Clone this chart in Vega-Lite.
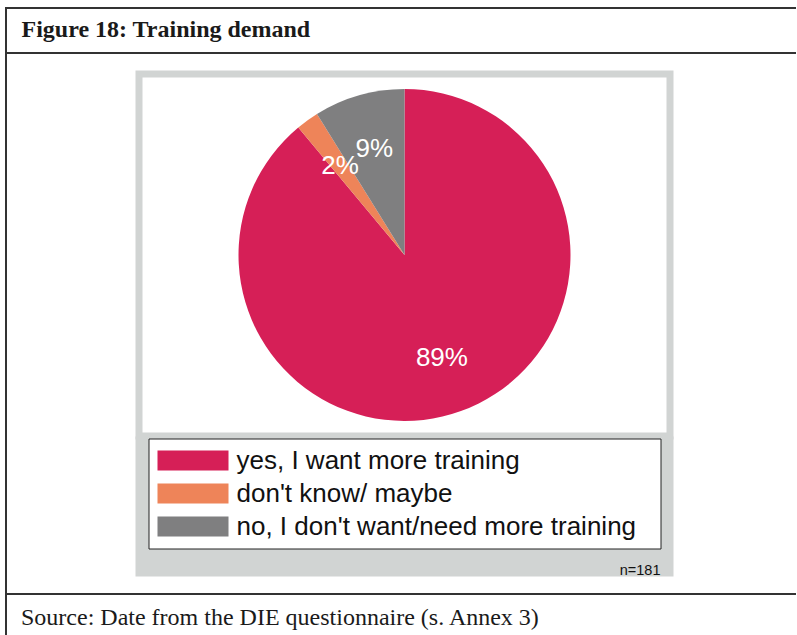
{
  "$schema": "https://vega.github.io/schema/vega-lite/v6.json",
  "background": "white",
  "padding": {"left": 5, "top": 7, "right": 0, "bottom": 0},
  "datasets": {
    "answers": [
      {"answer": "yes, I want more training", "rank": 1, "count": 161, "share": 0.89},
      {"answer": "don't know/ maybe", "rank": 2, "count": 4, "share": 0.02},
      {"answer": "no, I don't want/need more training", "rank": 3, "count": 16, "share": 0.09}
    ]
  },
  "spacing": -2,
  "vconcat": [
    {
      "width": 790,
      "height": 45,
      "view": {"fill": "white", "stroke": "#333333", "strokeWidth": 2, "strokeDash": [790, 45, 1000]},
      "title": {"text": "Figure 18: Training demand", "orient": "bottom", "anchor": "start", "frame": "group", "offset": -15.7, "baseline": "alphabetic", "dx": 15.5, "font": "Liberation Serif", "fontSize": 24, "fontWeight": "bold", "color": "#1a1a1a"},
      "data": {"values": []},
      "mark": "point"
    },
    {
      "spacing": 127,
      "hconcat": [
        {
          "width": 1,
          "height": 539,
          "view": {"fill": null, "stroke": "#333333", "strokeWidth": 2, "strokeDash": [0, 541, 539]},
          "data": {"values": []},
          "mark": "point"
        },
        {
          "spacing": 0,
          "vconcat": [
            {
              "width": 1,
              "height": 16,
              "view": {"fill": null, "stroke": null},
              "data": {"values": []},
              "mark": "point"
            },
            {
              "spacing": -7,
              "resolve": {"scale": {"color": "independent", "theta": "independent"}, "legend": {"color": "independent"}},
              "vconcat": [
                {
                  "width": 531,
                  "height": 362,
                  "view": {"fill": "white", "stroke": "#D1D4D3", "strokeWidth": 7},
                  "data": {"name": "answers"},
                  "encoding": {
                    "theta": {"field": "count", "type": "quantitative", "stack": true},
                    "order": {"field": "rank", "type": "ordinal"}
                  },
                  "layer": [
                    {
                      "mark": {"type": "arc", "outerRadius": 166},
                      "encoding": {
                        "color": {
                          "field": "answer", "type": "nominal",
                          "scale": {"domain": ["yes, I want more training", "don't know/ maybe", "no, I don't want/need more training"], "range": ["#D61F57", "#EE8459", "#7F7F80"]},
                          "legend": null
                        }
                      }
                    },
                    {
                      "mark": {"type": "text", "radius": 110, "font": "Liberation Sans", "fontSize": 26, "align": "center", "baseline": "middle"},
                      "encoding": {
                        "text": {"field": "share", "type": "quantitative", "format": ".0%"},
                        "color": {"value": "white"}
                      }
                    }
                  ]
                },
                {
                  "width": 531,
                  "height": 133,
                  "view": {"fill": "#D1D4D3", "stroke": "#D1D4D3", "strokeWidth": 7},
                  "title": {"text": "n=181", "orient": "bottom", "anchor": "end", "frame": "group", "offset": 1.5, "baseline": "alphabetic", "dx": -9.5, "font": "Liberation Sans", "fontSize": 14.5, "fontWeight": "normal", "color": "#111111"},
                  "data": {"name": "answers"},
                  "mark": {"type": "arc", "outerRadius": 0},
                  "encoding": {
                    "theta": {"field": "count", "type": "quantitative"},
                    "color": {
                      "field": "answer", "type": "nominal",
                      "scale": {"domain": ["yes, I want more training", "don't know/ maybe", "no, I don't want/need more training"], "range": ["#D61F57", "#EE8459", "#7F7F80"]},
                      "legend": {
                        "orient": "none", "legendX": 9.5, "legendY": -1.5, "title": null,
                        "symbolType": "M-1,-1H6.1V1H-1ZM48.4,0L48.4,0", "symbolSize": 400, "symbolStrokeWidth": 0, "symbolOffset": -3,
                        "labelOffset": 56, "labelFont": "Liberation Sans", "labelFontSize": 26, "labelColor": "#111111", "labelLimit": 0, "labelBaseline": "middle",
                        "rowPadding": 7, "padding": 9, "fillColor": "white", "strokeColor": "#222222"
                      }
                    }
                  }
                }
              ]
            }
          ]
        }
      ]
    },
    {
      "width": 790,
      "height": 41,
      "view": {"fill": "white", "stroke": "#333333", "strokeWidth": 2, "strokeDash": [790, 831, 41]},
      "title": {"text": "Source: Date from the DIE questionnaire (s. Annex 3)", "orient": "bottom", "anchor": "start", "frame": "group", "offset": -9.7, "baseline": "alphabetic", "dx": 15, "font": "Liberation Serif", "fontSize": 24, "fontWeight": "normal", "color": "#1a1a1a"},
      "data": {"values": []},
      "mark": "point"
    }
  ]
}
